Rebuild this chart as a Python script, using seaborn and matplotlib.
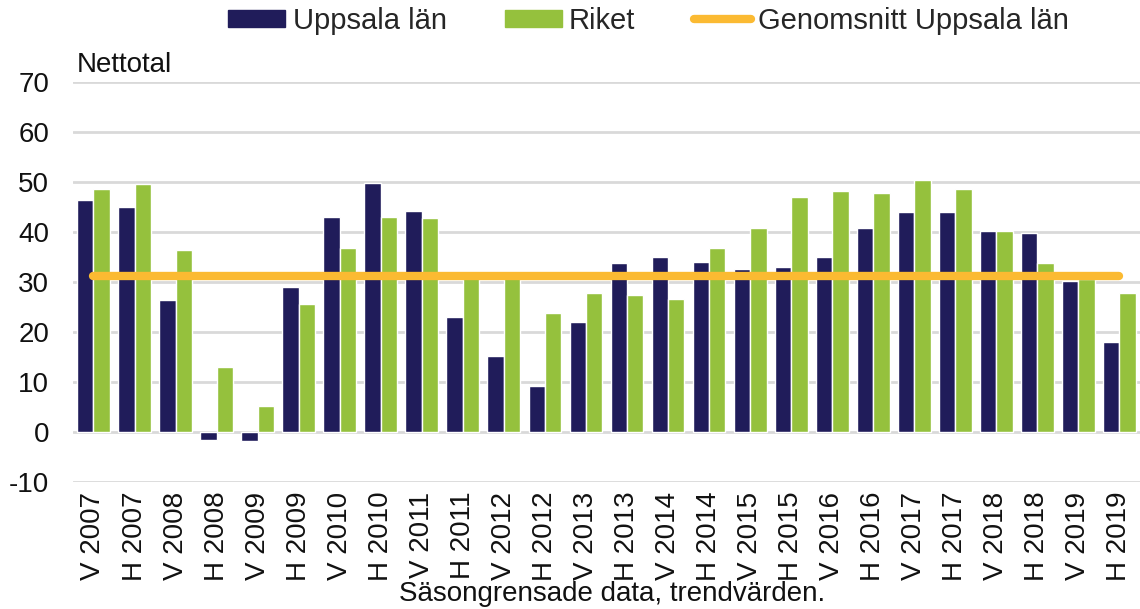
import numpy as np
import pandas as pd
import matplotlib
matplotlib.use("Agg")
import matplotlib.pyplot as plt
import seaborn as sns
from matplotlib.patches import Patch
from matplotlib.lines import Line2D

periods = ["V 2007", "H 2007", "V 2008", "H 2008", "V 2009", "H 2009",
           "V 2010", "H 2010", "V 2011", "H 2011", "V 2012", "H 2012",
           "V 2013", "H 2013", "V 2014", "H 2014", "V 2015", "H 2015",
           "V 2016", "H 2016", "V 2017", "H 2017", "V 2018", "H 2018",
           "V 2019", "H 2019"]
uppsala = [46.3, 44.9, 26.4, -1.5, -1.7, 28.9, 43.0, 49.8, 44.1, 23.0, 15.1, 9.2,
           21.9, 33.7, 34.9, 34.0, 32.6, 32.9, 34.9, 40.7, 43.9, 43.9, 40.2, 39.7,
           30.1, 18.0]
riket = [48.6, 49.5, 36.3, 12.9, 5.3, 25.6, 36.8, 43.0, 42.7, 32.0, 30.8, 23.8,
         27.8, 27.4, 26.6, 36.8, 40.7, 46.9, 48.1, 47.8, 50.3, 48.6, 40.2, 33.7,
         30.5, 27.8]
snitt = 31.1
avg = [snitt] * len(periods)

c_navy = "#201c5a"
c_green = "#95c13d"
c_orange = "#fbba32"

sns.set_style("white")
plt.rcParams["font.family"] = ["Liberation Sans", "DejaVu Sans"]
plt.rcParams["axes.unicode_minus"] = False

df = pd.DataFrame({
    "period": periods * 2,
    "value": uppsala + riket,
    "serie": ["Uppsala län"] * len(periods) + ["Riket"] * len(periods),
})

fig = plt.figure(figsize=(11.4, 6.09), dpi=100)
ax = fig.add_axes([0.064, 0.2085, 0.936, 0.657])

sns.barplot(data=df, x="period", y="value", hue="serie", order=periods,
            hue_order=["Uppsala län", "Riket"],
            palette={"Uppsala län": c_navy, "Riket": c_green},
            width=0.8, saturation=1, ax=ax, legend=False, zorder=2)
sns.lineplot(x=np.arange(len(periods)), y=avg, color=c_orange, linewidth=6,
             solid_capstyle="round", ax=ax, zorder=3)

ax.set_xlim(-0.5, len(periods) - 0.5)
ax.set_ylim(-10, 70)
ax.set_yticks(range(-10, 71, 10))
ax.yaxis.grid(True, color="#d9d9d9", linewidth=2)
ax.set_axisbelow(True)
for s in ax.spines.values():
    s.set_visible(False)
ax.tick_params(axis="both", length=0, labelsize=20, colors="#111111")
ax.tick_params(axis="y", pad=17)
ax.tick_params(axis="x", pad=7)
ax.set_xticks(range(len(periods)))
ax.set_xticklabels(periods, rotation=90)
ax.set_xlabel("")
ax.set_ylabel("")

fig.text(0.067, 0.882, "Nettotal", fontsize=20, ha="left", va="baseline", color="#111111")
fig.text(0.537, 0.004, "Säsongrensade data, trendvärden.", fontsize=20,
         ha="center", va="bottom", color="#111111")

handles = [Patch(color=c_navy), Patch(color=c_green),
           Line2D([0], [0], color=c_orange, linewidth=6, solid_capstyle="round")]
fig.legend(handles, ["Uppsala län", "Riket", "Genomsnitt Uppsala län"],
           loc="center", bbox_to_anchor=(0.569, 0.966), ncol=3, frameon=False,
           fontsize=21, handlelength=1.95, handleheight=0.55, handletextpad=0.25,
           columnspacing=2.0)

fig.savefig("out.png", dpi=100)
